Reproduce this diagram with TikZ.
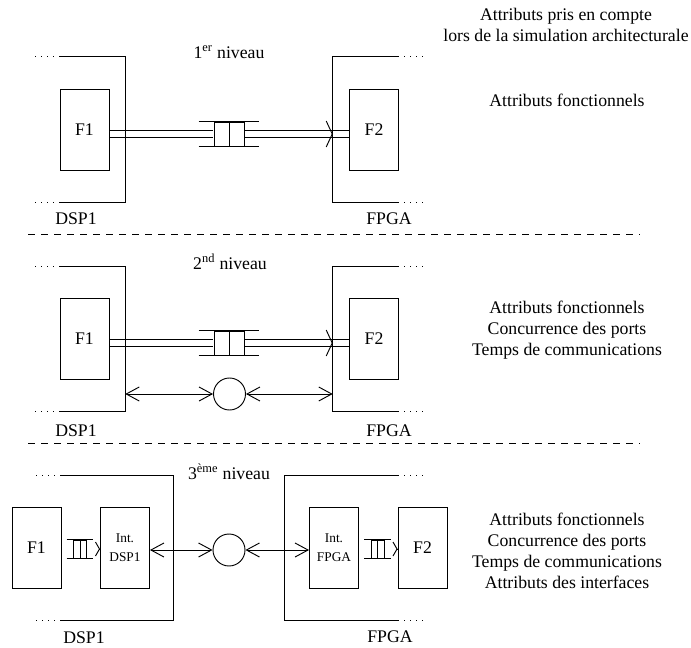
\documentclass[tikz,border=0pt]{standalone}
\usepackage{fontspec}
\setmainfont{Liberation Serif}
\usetikzlibrary{arrows.meta,positioning,calc}
\tikzset{
  side/.style={line width=0.7pt},
  fbox/.style={draw,rectangle,side,inner sep=0pt,minimum width=36.75pt,minimum height=60.75pt},
  ibox/.style={fbox,font=\fontsize{10}{14}\selectfont,align=center},
  chip/.style={rectangle,inner sep=0pt,minimum height=108.75pt},
  fifobox/.style={draw,rectangle,side,fill=white,inner sep=0pt},
  chan/.style={side,double,double distance=4.55pt,shorten <=0.3pt,shorten >=0.3pt},
  schan/.style={side,double,double distance=3.8pt,shorten <=0.3pt,shorten >=0.3pt},
  dots/.style={side,dash pattern=on 0.75pt off 3.75pt},
  sep/.style={side,dash pattern=on 5.25pt off 4.5pt},
  bus/.style={side,{Straight Barb[length=9.75pt,width=10.5pt]}-{Straight Barb[length=9.75pt,width=10.5pt]}},
  tip/.style={side,-{Straight Barb[length=4.5pt,width=19.5pt]}},
  stip/.style={side,-{Straight Barb[length=3pt,width=10.5pt]}},
  res/.style={draw,circle,side,minimum size=24pt,inner sep=0pt},
  lbl/.style={align=center}
}
% fifo: name, centre, cell width, height
\newcommand{\fifo}[4]{%
  \node[fifobox,minimum width=2*#3,minimum height=#4] (#1) at (#2) {};
  \draw[side] ([xshift=-#3]#1.north west) -- ([xshift=#3]#1.north east);
  \draw[side] ([xshift=-#3]#1.south west) -- ([xshift=#3]#1.south east);
  \draw[side] (#1.north) -- (#1.south);
}

\begin{document}
\begin{tikzpicture}[x=0.75pt,y=-0.75pt,font=\fontsize{13.3}{15.75}\selectfont]
  \useasboundingbox (0,0) rectangle (691,648);

  \node[lbl] (head) at (566,24.5) {Attributs pris en compte\\lors de la simulation architecturale};

  % 1er niveau
  \node (t1) at (229,52) {1\textsuperscript{er} niveau};
  \node[fbox] (f1a) at (84.5,129.5) {F1};
  \node[fbox] (f2a) at (374,129.5) {F2};
  \node[chip,minimum width=48.75pt] (dspa) at (92.5,129.5) {};
  \node[chip,minimum width=48.75pt] (fpgaa) at (365.5,129.5) {};
  \fifo{qa}{229,134}{11.25pt}{18pt}
  \draw[chan] ([yshift=-3.375pt]f1a.east) -- (qa.west);
  \draw[chan] (qa.east) -- ([yshift=-3.375pt]f2a.west);
  \draw[side] (dspa.north west) -- (dspa.north east) -- (dspa.south east) -- (dspa.south west);
  \draw[side] (fpgaa.north east) -- (fpgaa.north west) -- (fpgaa.south west) -- (fpgaa.south east);
  \draw[dots] (dspa.north west) -- ++(-29,0);
  \draw[dots] (dspa.south west) -- ++(-29,0);
  \draw[dots] (fpgaa.north east) -- ++(29,0);
  \draw[dots] (fpgaa.south east) -- ++(29,0);
  \draw[tip] ($(fpgaa.west |- qa)+(-0.4,0)$) -- (fpgaa.west |- qa);
  \node (da) at (76,219) {DSP1};
  \node (pa) at (389,219) {FPGA};
  \node[lbl] (ra) at (567,100) {Attributs fonctionnels};

  \draw[sep] (28,234) -- (640,234);

  % 2nd niveau
  \node (t2) at (230,262) {2\textsuperscript{nd} niveau};
  \node[fbox] (f1b) at (84.5,339) {F1};
  \node[fbox] (f2b) at (374,339) {F2};
  \node[chip,minimum width=48.75pt] (dspb) at (92.5,339) {};
  \node[chip,minimum width=48.75pt] (fpgab) at (365.5,339) {};
  \fifo{qb}{229,343}{11.25pt}{18pt}
  \draw[chan] ([yshift=-3pt]f1b.east) -- (qb.west);
  \draw[chan] (qb.east) -- ([yshift=-3pt]f2b.west);
  \node[res] (rb) at (229.5,394) {};
  \draw[side] (dspb.north west) -- (dspb.north east) -- (dspb.south east) -- (dspb.south west);
  \draw[side] (fpgab.north east) -- (fpgab.north west) -- (fpgab.south west) -- (fpgab.south east);
  \draw[dots] (dspb.north west) -- ++(-29,0);
  \draw[dots] (dspb.south west) -- ++(-29,0);
  \draw[dots] (fpgab.north east) -- ++(29,0);
  \draw[dots] (fpgab.south east) -- ++(29,0);
  \draw[tip] ($(fpgab.west |- qb)+(-0.4,0)$) -- (fpgab.west |- qb);
  \draw[bus] (dspb.east |- rb) -- (rb.west);
  \draw[bus] (rb.east) -- (fpgab.west |- rb);
  \node (db) at (76,431) {DSP1};
  \node (pb) at (389,431) {FPGA};
  \node[lbl] (rbt) at (567,330) {Attributs fonctionnels\\Concurrence des ports\\Temps de communications};

  \draw[sep] (28,443) -- (640,443);

  % 3eme niveau
  \node (t3) at (229,472) {3\textsuperscript{ème} niveau};
  \node[fbox] (f1c) at (36.5,548) {F1};
  \node[ibox] (idsp) at (125,548) {Int.\\DSP1};
  \node[ibox] (ifpga) at (334,548) {Int.\\FPGA};
  \node[fbox] (f2c) at (422.5,548) {F2};
  \node[chip,minimum width=84pt] (dspc) at (117,548) {};
  \node[chip,minimum width=84.75pt] (fpgac) at (341.5,548) {};
  \fifo{qc}{80,549}{4.875pt}{13.5pt}
  \fifo{qd}{377.5,549}{4.875pt}{13.5pt}
  \draw[schan] (f1c.east |- qc) -- (qc.west);
  \draw[schan] (qc.east) -- (idsp.west |- qc);
  \draw[schan] (ifpga.east |- qd) -- (qd.west);
  \draw[schan] (qd.east) -- (f2c.west |- qd);
  \draw[stip] ($(idsp.west |- qc)+(-0.4,0)$) -- (idsp.west |- qc);
  \draw[stip] ($(f2c.west |- qd)+(-0.4,0)$) -- (f2c.west |- qd);
  \node[res] (rc) at (229,550) {};
  \draw[side] (dspc.north west) -- (dspc.north east) -- (dspc.south east) -- (dspc.south west);
  \draw[side] (fpgac.north east) -- (fpgac.north west) -- (fpgac.south west) -- (fpgac.south east);
  \draw[dots] (dspc.north west) -- ++(-30,0);
  \draw[dots] (dspc.south west) -- ++(-30,0);
  \draw[dots] (fpgac.north east) -- ++(29,0);
  \draw[dots] (fpgac.south east) -- ++(29,0);
  \draw[bus] (idsp.east |- rc) -- (rc.west);
  \draw[bus] (rc.east) -- (ifpga.west |- rc);
  \node (dc) at (84,638) {DSP1};
  \node (pc) at (390,637) {FPGA};
  \node[lbl] (rct) at (567,551) {Attributs fonctionnels\\Concurrence des ports\\Temps de communications\\Attributs des interfaces};
\end{tikzpicture}
\end{document}
